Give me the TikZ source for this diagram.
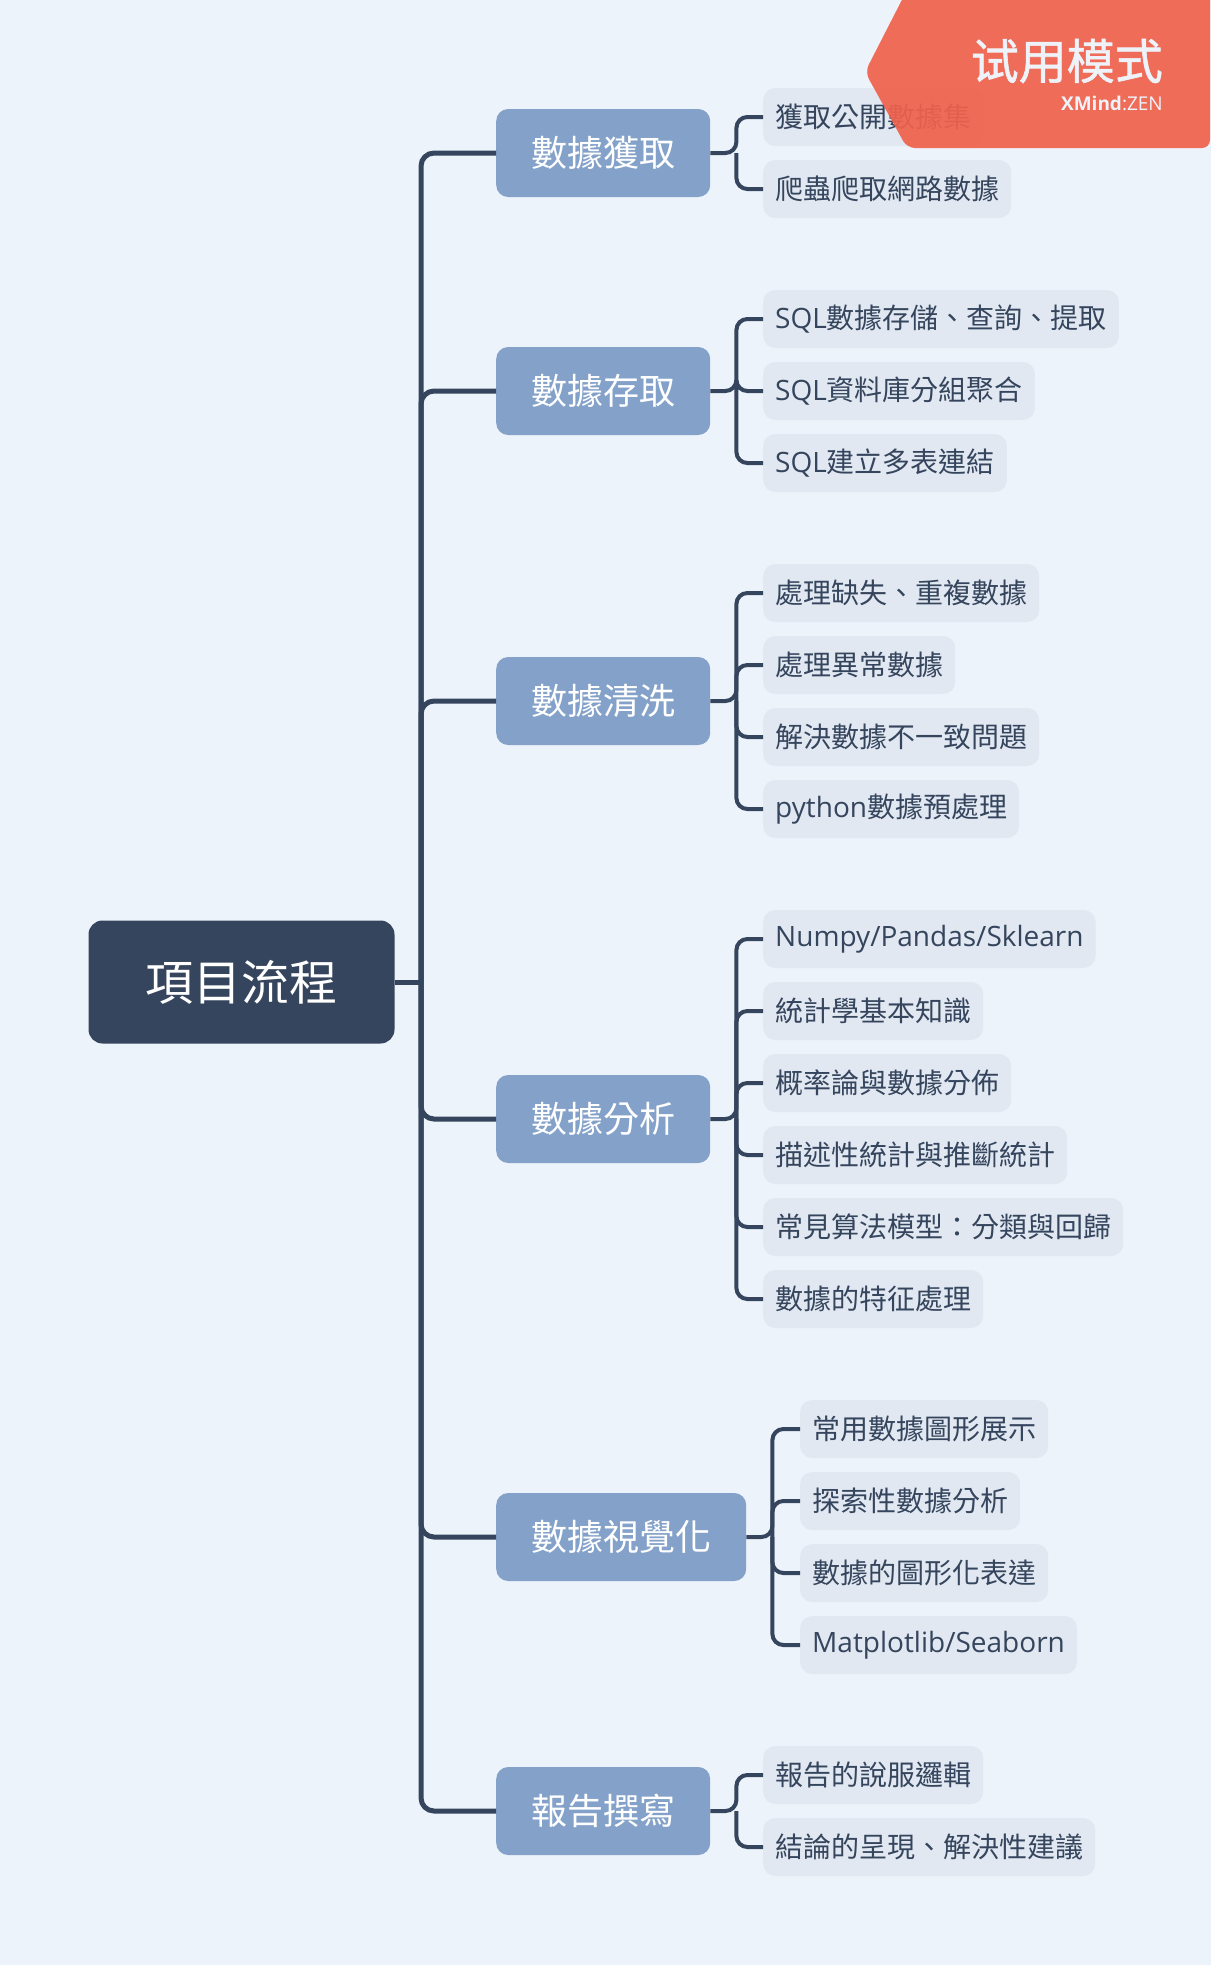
\documentclass[tikz,border=0pt]{standalone}
\usepackage{fontspec}
\setmainfont{Noto Sans CJK TC}
\newfontfamily\enfont{Open Sans}
\newfontfamily\scfont[FakeBold=1.2]{Noto Sans CJK SC}
\newcommand{\en}[1]{{\enfont #1}}
\usetikzlibrary{positioning,calc}
\definecolor{bgcol}{HTML}{EDF3FA}
\definecolor{linecol}{HTML}{35455D}
\definecolor{topcol}{HTML}{84A2C9}
\definecolor{leafcol}{HTML}{E1E8F1}
\definecolor{wmcol}{HTML}{F0624D}
\definecolor{wmtext}{HTML}{EEF3FA}

\begin{document}
\begin{tikzpicture}[x=1pt,y=-1pt,
  root/.style={fill=linecol,text=white,rounded corners=14pt,minimum height=123pt,inner xsep=57pt,font=\fontsize{48}{56}\selectfont},
  topic/.style={fill=topcol,text=white,rounded corners=12pt,minimum height=88pt,inner xsep=35pt,anchor=west,font=\fontsize{36}{42}\selectfont},
  leaf/.style={fill=leafcol,text=linecol,rounded corners=12pt,minimum height=58pt,inner xsep=12pt,anchor=west,font=\fontsize{28}{34}\selectfont},
  trunk/.style={draw=linecol,line width=5pt,rounded corners=13pt},
  twig/.style={draw=linecol,line width=4pt,rounded corners=11pt}]
  \fill[bgcol] (0,0) rectangle (1211,1965);
  \useasboundingbox (0,0) rectangle (1211,1965);

  \node[root] (r) at (241.5,982) {項目流程};

  \node[topic] (m1) at (496,153) {數據獲取};
  \node[topic] (m2) at (496,391) {數據存取};
  \node[topic] (m3) at (496,701) {數據清洗};
  \node[topic] (m4) at (496,1119) {數據分析};
  \node[topic] (m5) at (496,1537) {數據視覺化};
  \node[topic] (m6) at (496,1811) {報告撰寫};

  \node[leaf] (n11) at (763,117) {獲取公開數據集};
  \node[leaf] (n12) at (763,189) {爬蟲爬取網路數據};

  \node[leaf] (n21) at (763,319) {\en{SQL}數據存儲、查詢、提取};
  \node[leaf] (n22) at (763,391) {\en{SQL}資料庫分組聚合};
  \node[leaf] (n23) at (763,463) {\en{SQL}建立多表連結};

  \node[leaf] (n31) at (763,593) {處理缺失、重複數據};
  \node[leaf] (n32) at (763,665) {處理異常數據};
  \node[leaf] (n33) at (763,737) {解決數據不一致問題};
  \node[leaf] (n34) at (763,809) {\en{python}數據預處理};

  \node[leaf] (n41) at (763,939) {\en{Numpy/Pandas/Sklearn}};
  \node[leaf] (n42) at (763,1011) {統計學基本知識};
  \node[leaf] (n43) at (763,1083) {概率論與數據分佈};
  \node[leaf] (n44) at (763,1155) {描述性統計與推斷統計};
  \node[leaf] (n45) at (763,1227) {常見算法模型：分類與回歸};
  \node[leaf] (n46) at (763,1299) {數據的特征處理};

  \node[leaf] (n51) at (800,1429) {常用數據圖形展示};
  \node[leaf] (n52) at (800,1501) {探索性數據分析};
  \node[leaf] (n53) at (800,1573) {數據的圖形化表達};
  \node[leaf] (n54) at (800,1645) {\en{Matplotlib/Seaborn}};

  \node[leaf] (n61) at (763,1775) {報告的說服邏輯};
  \node[leaf] (n62) at (763,1847) {結論的呈現、解決性建議};

  \coordinate (t) at (421,982);
  \draw[trunk] (r.east) -- (t);
  \draw[trunk] (m1.west) -| (t) |- (m6.west);
  \draw[trunk] (t) |- (m2.west);
  \draw[trunk] (t) |- (m3.west);
  \draw[trunk] (t) |- (m4.west);
  \draw[trunk] (t) |- (m5.west);

  \coordinate (s1) at ($(m1.east)+(26,0)$);
  \coordinate (s2) at ($(m2.east)+(26,0)$);
  \coordinate (s3) at ($(m3.east)+(26,0)$);
  \coordinate (s4) at ($(m4.east)+(26,0)$);
  \coordinate (s5) at ($(m5.east)+(26,0)$);
  \coordinate (s6) at ($(m6.east)+(26,0)$);

  \draw[twig] (m1.east) -- (s1) |- (n11.west);
  \draw[twig] (s1) |- (n12.west);
  \draw[twig] (m2.east) -- (s2) |- (n21.west);
  \draw[twig] (s2) |- (n22.west);
  \draw[twig] (s2) |- (n23.west);
  \draw[twig] (m3.east) -- (s3) |- (n31.west);
  \draw[twig] (s3) |- (n32.west);
  \draw[twig] (s3) |- (n33.west);
  \draw[twig] (s3) |- (n34.west);
  \draw[twig] (m4.east) -- (s4) |- (n41.west);
  \draw[twig] (s4) |- (n42.west);
  \draw[twig] (s4) |- (n43.west);
  \draw[twig] (s4) |- (n44.west);
  \draw[twig] (s4) |- (n45.west);
  \draw[twig] (s4) |- (n46.west);
  \draw[twig] (m5.east) -- (s5) |- (n51.west);
  \draw[twig] (s5) |- (n52.west);
  \draw[twig] (s5) |- (n53.west);
  \draw[twig] (s5) |- (n54.west);
  \draw[twig] (m6.east) -- (s6) |- (n61.west);
  \draw[twig] (s6) |- (n62.west);

  \fill[wmcol,fill opacity=0.93,rounded corners=8pt] (907,-10) -- (1210,-10) -- (1210,148) -- (907,148) -- (865,72) -- cycle;
  \node[anchor=east,text=wmtext,inner sep=0pt,font=\scfont\fontsize{48}{56}\selectfont] (wm) at (1163,61) {试用模式};
  \node[anchor=east,text=wmtext,inner sep=0pt,font=\enfont\fontsize{19}{22}\selectfont] (wz) at (1163,103) {\textbf{XMind}:ZEN};
\end{tikzpicture}
\end{document}
